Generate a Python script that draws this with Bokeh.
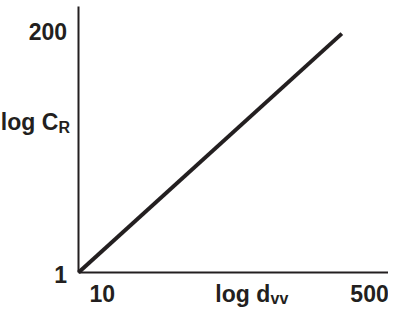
import math
from bokeh.plotting import figure
from bokeh.models import Label
from bokeh.embed import file_html
from bokeh.resources import INLINE

# data (schematic log-log relation)
d_vv = [10, 500]
c_r = [1, 200]

x_tick_values = [10, 500]
x_tick_labels = ["10", "500"]
y_tick_values = [200, 1]
y_tick_labels = ["200", "1"]

INK = "#231f20"
FONT = "Liberation Sans"
MAIN = "23px"
SUB = "16px"
LIFT = 11   # correction of the label anchor (px, upwards)

W, H = 388, 309
# axes origin and extent (in data units) and where they sit on the canvas (px)
X0, Y0 = 10, 1
X_END, Y_END = 1000, 365
OX, OY = 78, 272          # pixel position of origin
XR, YT = 388, 6           # pixel position of X_END / Y_END

kx = (math.log10(X_END) - math.log10(X0)) / (XR - OX)
ky = (math.log10(Y_END) - math.log10(Y0)) / (OY - YT)
x_start = 10 ** (math.log10(X0) - OX * kx)
x_stop = 10 ** (math.log10(X_END) + (W - XR) * kx)
y_start = 10 ** (math.log10(Y0) - (H - OY) * ky)
y_stop = 10 ** (math.log10(Y_END) + YT * ky)

p = figure(width=W, height=H, x_axis_type="log", y_axis_type="log",
           x_range=(x_start, x_stop), y_range=(y_start, y_stop),
           title=None, output_backend="svg", toolbar_location=None,
           min_border=0, x_axis_location=None, y_axis_location=None)
p.outline_line_color = None
p.grid.visible = False
p.background_fill_color = "white"
p.border_fill_color = "white"

# axis lines
p.segment(x0=[X0, X0], y0=[Y0, Y0], x1=[X0, X_END], y1=[Y_END, Y0],
          line_color=INK, line_width=2)

# the relation
p.line(d_vv, c_r, line_color=INK, line_width=4)


def lab(x, y, text, dx, dy, size=MAIN, align="left"):
    p.add_layout(Label(x=x, y=y, text=text, x_offset=dx, y_offset=dy + LIFT,
                       text_font=FONT, text_font_style="bold", text_font_size=size,
                       text_color=INK, text_align=align, text_baseline="alphabetic"))


# x tick labels
x_dx = [23.7, 27.7]
for xv, t, dx in zip(x_tick_values, x_tick_labels, x_dx):
    lab(xv, Y0, t, dx, -32, align="center")

# y tick labels
y_dy = [-8.9, -12.7]
for yv, t, dy in zip(y_tick_values, y_tick_labels, y_dy):
    lab(X0, yv, t, -11.4, dy, align="right")

# axis titles with subscripts
lab(X0, Y0, "log C", -20.2, 139.8, align="right")
lab(X0, Y0, "R", -20.0, 134, size=SUB, align="left")
lab(X0, Y0, "log d", 191.8, -32, align="right")
lab(X0, Y0, "vv", 192.0, -36.5, size=SUB, align="left")

open("out.html", "w").write(file_html(p, INLINE))
